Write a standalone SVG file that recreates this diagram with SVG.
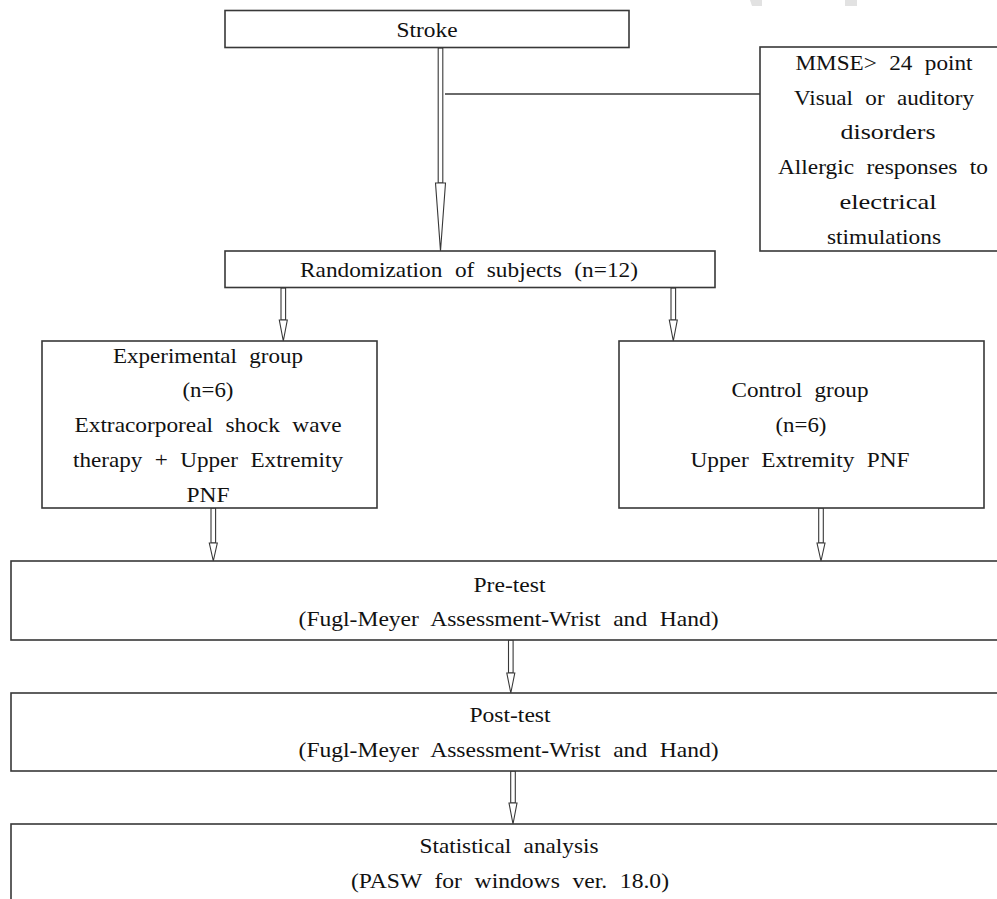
<svg xmlns="http://www.w3.org/2000/svg" width="997" height="899" viewBox="0 0 997 899" font-family="Liberation Serif, Times New Roman, serif">
<style>
.box{fill:#fff;stroke:#383838;stroke-width:1.6}
.t{font-size:21px;fill:#111;text-anchor:middle;word-spacing:6px}
.sh{fill:#fff;stroke:#383838;stroke-width:1.1}
.ln{fill:none;stroke:#383838;stroke-width:1.6}
.wm{fill:#e2e2e2}
</style>
<rect width="997" height="899" fill="#fff"/>
<path class="wm" d="M750 0H762V6H752Z"/>
<rect class="wm" x="845" y="0" width="12" height="6"/>

<g id="connectors">
  <line class="ln" x1="445" y1="94" x2="760" y2="94"/>
  <g id="c-stroke-rand">
    <rect class="sh" x="438.2" y="48" width="4.6" height="135"/>
    <polygon class="sh" points="435.5,183 445.5,183 440.5,251"/>
  </g>
  <g id="c-rand-exp">
    <rect class="sh" x="281" y="288" width="4.6" height="32"/>
    <polygon class="sh" points="279.3,320 287.3,320 283.3,341"/>
  </g>
  <g id="c-rand-ctrl">
    <rect class="sh" x="671" y="288" width="4.6" height="32"/>
    <polygon class="sh" points="669.3,320 677.3,320 673.3,341"/>
  </g>
  <g id="c-exp-pre">
    <rect class="sh" x="211" y="508" width="4.6" height="35"/>
    <polygon class="sh" points="209.3,543 217.3,543 213.3,561"/>
  </g>
  <g id="c-ctrl-pre">
    <rect class="sh" x="818.7" y="508" width="4.6" height="35"/>
    <polygon class="sh" points="817,543 825,543 821,561"/>
  </g>
  <g id="c-pre-post">
    <rect class="sh" x="508.5" y="640" width="4.6" height="33"/>
    <polygon class="sh" points="506.8,673 514.8,673 510.8,693"/>
  </g>
  <g id="c-post-stat">
    <rect class="sh" x="510.7" y="771" width="4.6" height="32"/>
    <polygon class="sh" points="509,803 517,803 513,824"/>
  </g>
</g>

<g id="n-stroke">
  <rect class="box" x="225" y="10.5" width="404" height="37"/>
  <text class="t" x="427" y="36.5" textLength="61" lengthAdjust="spacingAndGlyphs">Stroke</text>
</g>

<g id="n-exclusion">
  <rect class="box" x="760" y="47" width="250" height="204"/>
  <text class="t" x="884" y="70" textLength="177" lengthAdjust="spacingAndGlyphs">MMSE&gt; 24 point</text>
  <text class="t" x="884" y="104.7" textLength="180" lengthAdjust="spacingAndGlyphs">Visual or auditory</text>
  <text class="t" x="888" y="139.4" textLength="95" lengthAdjust="spacingAndGlyphs">disorders</text>
  <text class="t" x="883" y="174.1" textLength="210" lengthAdjust="spacingAndGlyphs">Allergic responses to</text>
  <text class="t" x="888" y="208.8" textLength="97" lengthAdjust="spacingAndGlyphs">electrical</text>
  <text class="t" x="884" y="243.5" textLength="114" lengthAdjust="spacingAndGlyphs">stimulations</text>
</g>

<g id="n-random">
  <rect class="box" x="225" y="251" width="490" height="36.5"/>
  <text class="t" x="469" y="276.5" textLength="338" lengthAdjust="spacingAndGlyphs">Randomization of subjects (n=12)</text>
</g>

<g id="n-exp">
  <rect class="box" x="42" y="341" width="335" height="167"/>
  <text class="t" x="208" y="362.5" textLength="190" lengthAdjust="spacingAndGlyphs">Experimental group</text>
  <text class="t" x="208" y="397" textLength="51" lengthAdjust="spacingAndGlyphs">(n=6)</text>
  <text class="t" x="208" y="431.7" textLength="267" lengthAdjust="spacingAndGlyphs">Extracorporeal shock wave</text>
  <text class="t" x="208" y="466.5" textLength="270" lengthAdjust="spacingAndGlyphs">therapy + Upper Extremity</text>
  <text class="t" x="208" y="501.5" textLength="43" lengthAdjust="spacingAndGlyphs">PNF</text>
</g>

<g id="n-ctrl">
  <rect class="box" x="619" y="341" width="365" height="167"/>
  <text class="t" x="800" y="396.7" textLength="137" lengthAdjust="spacingAndGlyphs">Control group</text>
  <text class="t" x="801" y="431.5" textLength="51" lengthAdjust="spacingAndGlyphs">(n=6)</text>
  <text class="t" x="800" y="466.5" textLength="219" lengthAdjust="spacingAndGlyphs">Upper Extremity PNF</text>
</g>

<g id="n-pre">
  <rect class="box" x="11" y="561" width="1000" height="79"/>
  <text class="t" x="509.5" y="591.5" textLength="72" lengthAdjust="spacingAndGlyphs">Pre-test</text>
  <text class="t" x="508.6" y="626" textLength="420" lengthAdjust="spacingAndGlyphs">(Fugl-Meyer Assessment-Wrist and Hand)</text>
</g>

<g id="n-post">
  <rect class="box" x="11" y="693" width="1000" height="78"/>
  <text class="t" x="510" y="721.5" textLength="81" lengthAdjust="spacingAndGlyphs">Post-test</text>
  <text class="t" x="508.6" y="756.5" textLength="420" lengthAdjust="spacingAndGlyphs">(Fugl-Meyer Assessment-Wrist and Hand)</text>
</g>

<g id="n-stat">
  <rect class="box" x="11" y="824" width="1000" height="90"/>
  <text class="t" x="509" y="853.3" textLength="179" lengthAdjust="spacingAndGlyphs">Statistical analysis</text>
  <text class="t" x="510" y="888.3" textLength="318" lengthAdjust="spacingAndGlyphs">(PASW for windows ver. 18.0)</text>
</g>
</svg>
